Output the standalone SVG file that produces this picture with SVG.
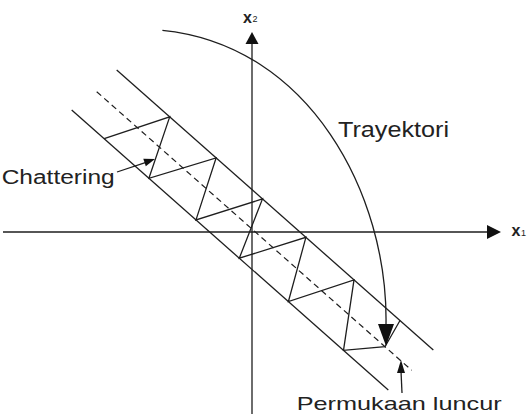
<svg xmlns="http://www.w3.org/2000/svg" width="527" height="414" viewBox="0 0 527 414">
<style>
.ln{stroke:#1e1e1e;stroke-width:1.3;fill:none}
.ds{stroke:#1e1e1e;stroke-width:1.2;fill:none;stroke-dasharray:6 4}
.ah{fill:#111;stroke:none}
text{font-family:"Liberation Sans",Arial,sans-serif;fill:#222}
.ax{font-size:16px;font-weight:bold}
.sb{font-size:9px}
</style>
<rect width="527" height="414" fill="#fff"/>
<g id="axes">
<line class="ln" x1="252" y1="44" x2="252" y2="414"/>
<polygon class="ah" points="252,32 245.5,44 258.5,44"/>
<line class="ln" x1="3" y1="232" x2="488" y2="232"/>
<polygon class="ah" points="501,232 487,225 487,239"/>
<text class="ax" x="243" y="22.5">x</text><text class="sb" x="252.5" y="21.5">2</text>
<text class="ax" x="511.5" y="235.5">x</text><text class="sb" x="521" y="236">1</text>
</g>
<g id="band">
<line class="ln" x1="116.7" y1="70" x2="433.3" y2="350"/>
<line class="ln" x1="71.7" y1="110" x2="388.3" y2="390"/>
<line class="ds" x1="96.7" y1="91.7" x2="411.7" y2="370.3"/>
</g>
<g id="chattering">
<polyline class="ln" points="104.2,138.7 169.7,116.9 148.9,178.3 216.1,157.9 196,219.9 262.5,198.9 239.3,258.2 305.9,237.3 288.4,301.6 354,279.9 343.5,350.4 385,346.7 400,320.5"/>
</g>
<g id="trajectory">
<path class="ln" d="M162.4,30.3 C310,45 388,195 386,324"/>
<polygon class="ah" points="378,324 394,324 386,346"/>
</g>
<g id="connectors">
<line class="ln" x1="117" y1="172" x2="146" y2="162.3"/>
<polygon class="ah" points="155,159 145.8,166.3 143.3,158.7"/>
<line class="ln" x1="402" y1="393" x2="401" y2="371"/>
<polygon class="ah" points="401,360 397,373 405,373"/>
</g>
<g id="labels">
<text x="1.7" y="184" font-size="20" textLength="113" lengthAdjust="spacingAndGlyphs">Chattering</text>
<text x="338" y="136.5" font-size="22" textLength="111" lengthAdjust="spacingAndGlyphs">Trayektori</text>
<text x="296.7" y="410" font-size="19" textLength="205" lengthAdjust="spacingAndGlyphs">Permukaan luncur</text>
</g>
</svg>
